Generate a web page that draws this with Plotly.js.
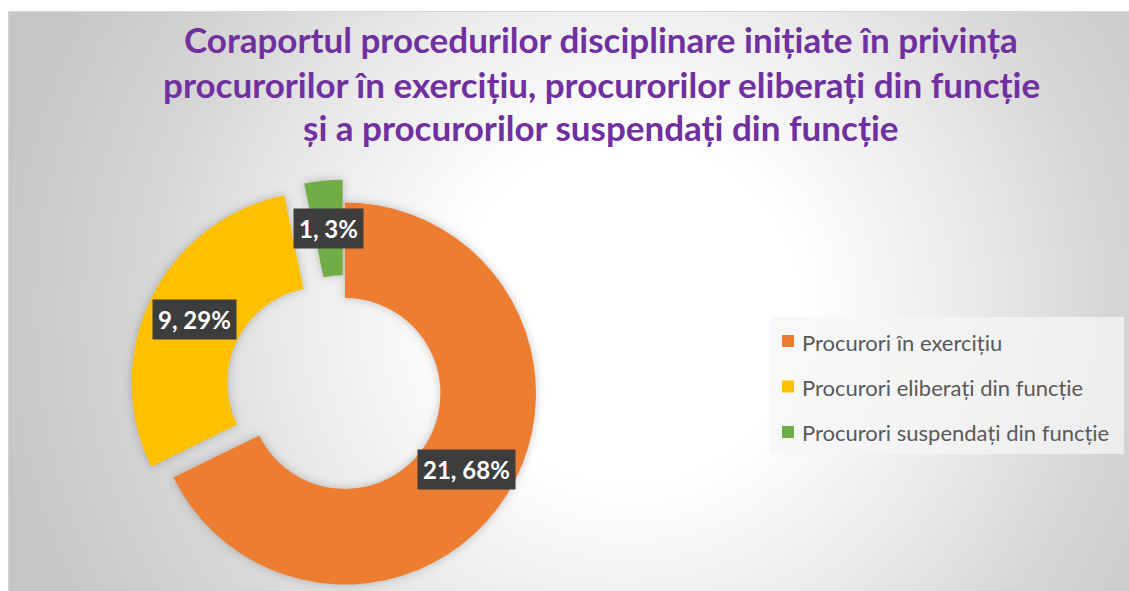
<!DOCTYPE html>
<html>
<head>
<meta charset="utf-8">
<script src="https://cdn.plot.ly/plotly-3.0.1.min.js"></script>
<style>
  html, body { margin:0; padding:0; width:1129px; height:591px; overflow:hidden; background:#ffffff; }
  #bg { position:absolute; left:8px; top:11px; width:1200px; height:700px; border:1px solid #d4d4d4;
        background: radial-gradient(circle at 620px 300px, #ffffff 0px, #ffffff 170px, #e9e9e9 350px, #d6d6d6 480px, #c6c6c6 640px); }
  #chart { position:absolute; left:0; top:0; width:1129px; height:660px; }
  .pielayer { filter: drop-shadow(0px 0px 5px rgba(0,0,0,0.22)); }
</style>
</head>
<body>
<div id="bg"></div>
<div id="chart"></div>
<script>
// ---- data ----
var titleLines = [
  "Coraportul procedurilor disciplinare inițiate în privința",
  "procurorilor în exercițiu, procurorilor eliberați din funcție",
  "și a procurorilor suspendați din funcție"
];
var labels = ["Procurori în exercițiu", "Procurori eliberați din funcție", "Procurori suspendați din funcție"];
var values = [21, 9, 1];
var percents = ["68%", "29%", "3%"];
var colors = ["#ED7D31", "#FFC000", "#70AD47"];
var pulls = [0, 0.13, 0.12];

// ---- layout constants ----
var W = 1129, H = 660;
var hole = 0.5;
var domX = [0.1144, 0.4967];
var domY = [0.0768, 0.7308];
var FONT = "Lato, 'Open Sans', sans-serif";

var trace = {
  type: "pie",
  labels: labels,
  values: values,
  marker: { colors: colors, line: { width: 0 } },
  hole: hole,
  pull: pulls,
  sort: false,
  direction: "clockwise",
  rotation: 0,
  textinfo: "none",
  hoverinfo: "label+value+percent",
  showlegend: false,
  domain: { x: domX, y: domY }
};

// title lines
var annotations = [];
var titleBaselines = [52, 97, 140];
var titleSize = 35;
titleLines.forEach(function (t, i) {
  annotations.push({
    text: "<b>" + t + "</b>", xref: "paper", yref: "paper",
    x: 601 / W, y: 1 - (titleBaselines[i] - 0.36 * titleSize) / H,
    xanchor: "center", yanchor: "middle", showarrow: false,
    font: { family: FONT, size: titleSize, color: "#7030A0" }
  });
});

// custom legend built from labels/colors
var shapes = [];
shapes.push({ type: "rect", xref: "paper", yref: "paper", layer: "below",
  x0: 770 / W, x1: 1124 / W, y0: 1 - 454 / H, y1: 1 - 317 / H,
  fillcolor: "rgba(246,246,246,0.75)", line: { width: 0 } });
var legTop = 341, legStep = 45.5;
labels.forEach(function (lab, i) {
  var cy = legTop + i * legStep;
  shapes.push({ type: "rect", xref: "paper", yref: "paper",
    x0: 782 / W, x1: 794 / W, y0: 1 - (cy + 6) / H, y1: 1 - (cy - 6) / H,
    fillcolor: colors[i], line: { width: 0 } });
  annotations.push({ text: lab, xref: "paper", yref: "paper",
    x: 800 / W, y: 1 - (cy + 1) / H, xanchor: "left", yanchor: "middle", showarrow: false,
    font: { family: FONT, size: 22, color: "#595959" } });
});

// data labels placed at mid-ring along each slice's mid-angle
var total = values.reduce(function (a, b) { return a + b; }, 0);
var plotW = W, plotH = H;
var bw = plotW * (domX[1] - domX[0]), bh = plotH * (domY[1] - domY[0]);
var maxPull = Math.max.apply(null, pulls);
var R = Math.min(bw, bh) / (2 + 2 * maxPull);
var CX = plotW * (domX[0] + domX[1]) / 2;
var CY = plotH * (2 - domY[0] - domY[1]) / 2;
var cum = 0;
values.forEach(function (v, i) {
  var mid = (cum + v / 2) / total * 2 * Math.PI;
  cum += v;
  var k = (1 + hole) / 2 + pulls[i];
  var px = CX + R * k * Math.sin(mid);
  var py = CY - R * k * Math.cos(mid);
  annotations.push({
    text: "<b>" + v + ", " + percents[i] + "</b>", xref: "paper", yref: "paper",
    x: px / W, y: 1 - py / H, xanchor: "center", yanchor: "middle", showarrow: false,
    bgcolor: "#3d3d3d", borderpad: 5,
    font: { family: FONT, size: 24, color: "#ffffff" }
  });
});

var layout = {
  width: W, height: H,
  margin: { l: 0, r: 0, t: 0, b: 0 },
  paper_bgcolor: "rgba(0,0,0,0)",
  plot_bgcolor: "rgba(0,0,0,0)",
  showlegend: false,
  annotations: annotations,
  shapes: shapes
};

Plotly.newPlot("chart", [trace], layout, { displayModeBar: false, staticPlot: true });
</script>
</body>
</html>
